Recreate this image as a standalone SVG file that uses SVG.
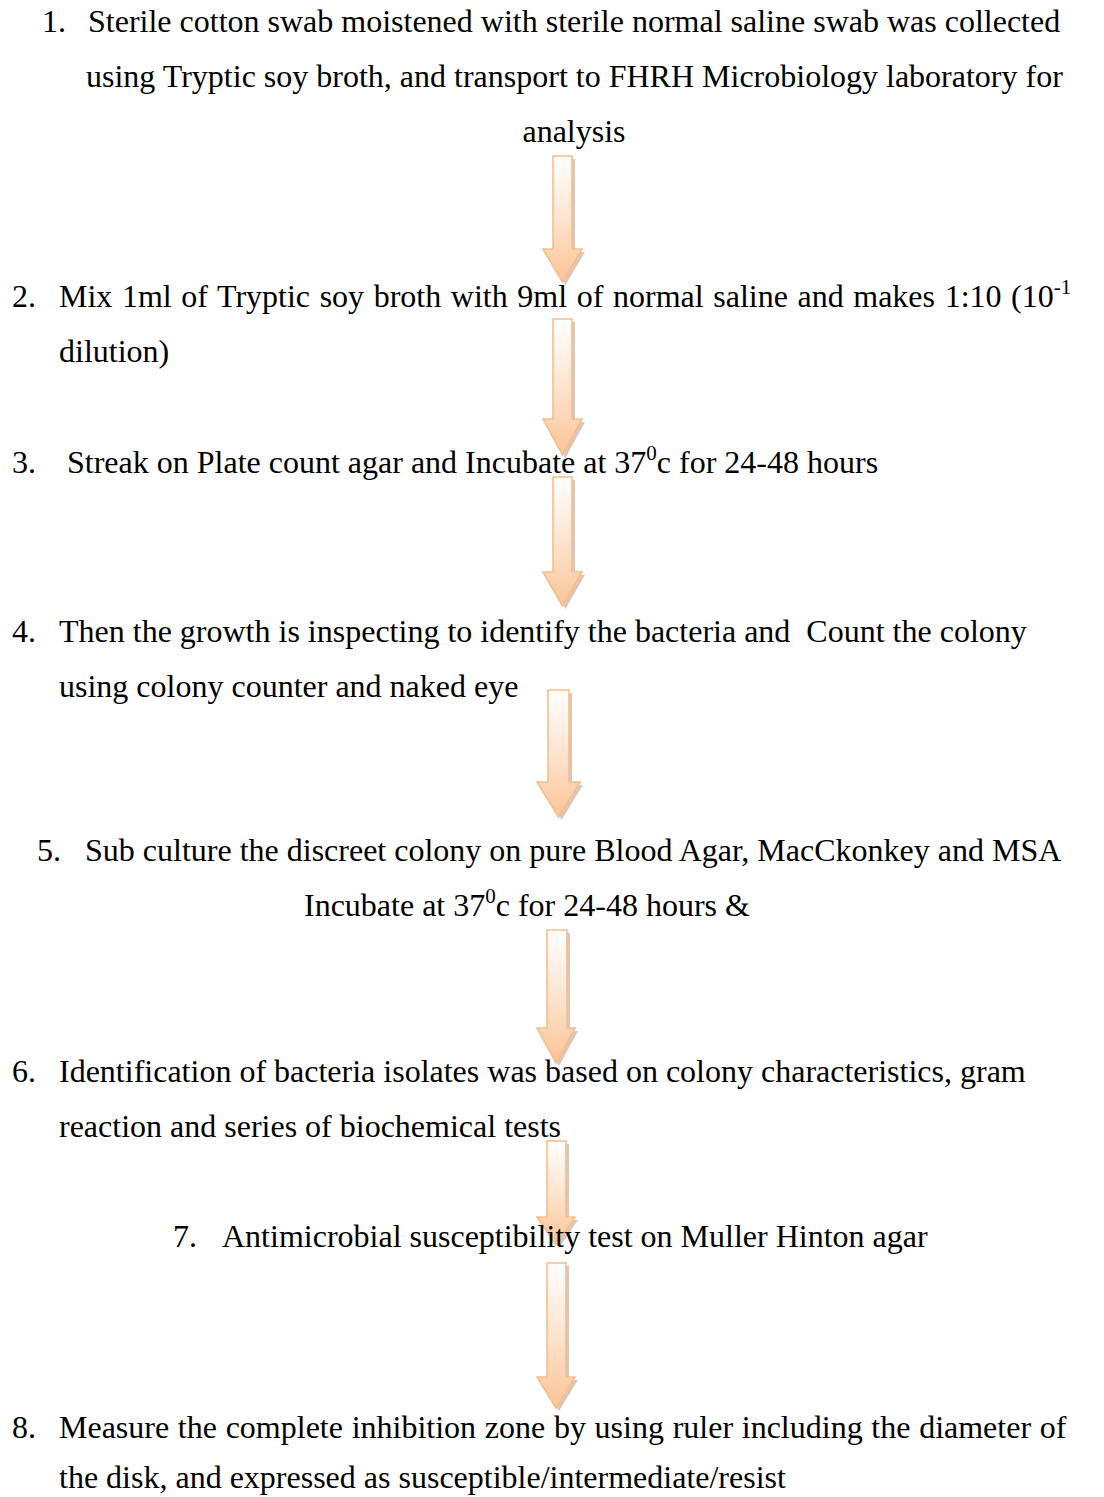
<svg xmlns="http://www.w3.org/2000/svg" width="1104" height="1497" viewBox="0 0 1104 1497">
<style>
text{font-family:"Liberation Serif","Times New Roman",serif;font-size:32px;fill:#000}
.sup{font-size:21px}
.arr{fill:url(#g);stroke:#f8bd8c;stroke-width:1.6}
.sh{fill:#b89a84;opacity:0.55}
</style>
<defs>
<linearGradient id="g" x1="0" y1="0" x2="0" y2="1">
<stop offset="0" stop-color="#ffffff"/>
<stop offset="0.5" stop-color="#fde4cf"/>
<stop offset="1" stop-color="#fbc495"/>
</linearGradient>
</defs>
<rect width="1104" height="1497" fill="#fff"/>
<g id="connectors">
<g id="a1"><path class="sh" transform="translate(3,3)" d="M553,156H572V249H582L562.5,282L543,249H553Z"/><path class="arr" d="M553,156H572V249H582L562.5,282L543,249H553Z"/></g>
<g id="a2"><path class="sh" transform="translate(3,3)" d="M553,319H572V419H582L562.5,455L543,419H553Z"/><path class="arr" d="M553,319H572V419H582L562.5,455L543,419H553Z"/></g>
<g id="a3"><path class="sh" transform="translate(3,3)" d="M553,477H572V572H582L562.5,606L543,572H553Z"/><path class="arr" d="M553,477H572V572H582L562.5,606L543,572H553Z"/></g>
<g id="a4"><path class="sh" transform="translate(3,3)" d="M548,690H569V782H580L558.5,817L537,782H548Z"/><path class="arr" d="M548,690H569V782H580L558.5,817L537,782H548Z"/></g>
<g id="a5"><path class="sh" transform="translate(3,3)" d="M547,930H567V1028H575L556,1063L537,1028H547Z"/><path class="arr" d="M547,930H567V1028H575L556,1063L537,1028H547Z"/></g>
<g id="a6"><path class="sh" transform="translate(3,3)" d="M547,1141H566V1217H575L556,1245L537,1217H547Z"/><path class="arr" d="M547,1141H566V1217H575L556,1245L537,1217H547Z"/></g>
<g id="a7"><path class="sh" transform="translate(3,3)" d="M547,1263H566V1377H575L556,1408L537,1377H547Z"/><path class="arr" d="M547,1263H566V1377H575L556,1408L537,1377H547Z"/></g>
</g>
<g id="step1">
<text x="42" y="32">1.</text>
<text x="88" y="32">Sterile cotton swab moistened with sterile normal saline swab was collected</text>
<text x="86" y="87">using Tryptic soy broth, and transport to FHRH Microbiology laboratory for</text>
<text x="574" y="142" text-anchor="middle">analysis</text>
</g>
<g id="step2">
<text x="12" y="307">2.</text>
<text x="59" y="307" word-spacing="1.6">Mix 1ml of Tryptic soy broth with 9ml of normal saline and makes 1:10 (10<tspan class="sup" dy="-13">-1</tspan></text>
<text x="59" y="362">dilution)</text>
</g>
<g id="step3">
<text x="12" y="473">3.</text>
<text x="67" y="473">Streak on Plate count agar and Incubate at 37<tspan class="sup" dy="-13">0</tspan><tspan dy="13">c for 24-48 hours</tspan></text>
</g>
<g id="step4">
<text x="12" y="642">4.</text>
<text x="59" y="642" xml:space="preserve">Then the growth is inspecting to identify the bacteria and  Count the colony</text>
<text x="59" y="697">using colony counter and naked eye</text>
</g>
<g id="step5">
<text x="37" y="861">5.</text>
<text x="85" y="861">Sub culture the discreet colony on pure Blood Agar, MacCkonkey and MSA</text>
<text x="304" y="916">Incubate at 37<tspan class="sup" dy="-13">0</tspan><tspan dy="13">c for 24-48 hours &amp;</tspan></text>
</g>
<g id="step6">
<text x="12" y="1082">6.</text>
<text x="59" y="1082">Identification of bacteria isolates was based on colony characteristics, gram</text>
<text x="59" y="1137">reaction and series of biochemical tests</text>
</g>
<g id="step7">
<text x="173" y="1247">7.</text>
<text x="222" y="1247">Antimicrobial susceptibility test on Muller Hinton agar</text>
</g>
<g id="step8">
<text x="12" y="1438">8.</text>
<text x="59" y="1438" word-spacing="0.7">Measure the complete inhibition zone by using ruler including the diameter of</text>
<text x="59" y="1488">the disk, and expressed as susceptible/intermediate/resist</text>
</g>
</svg>
